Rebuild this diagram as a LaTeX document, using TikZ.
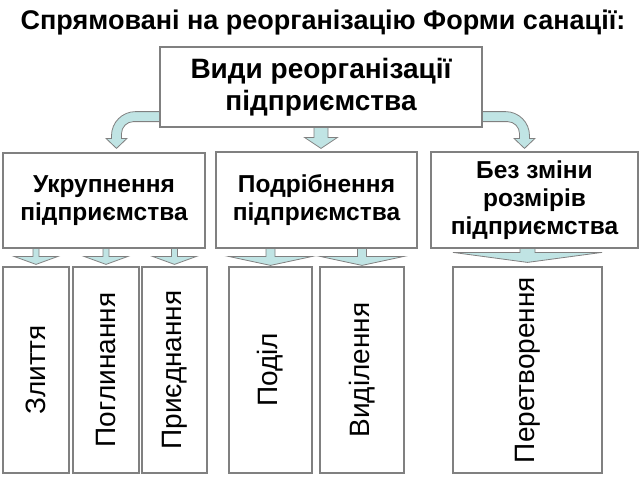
\documentclass[tikz,border=0pt]{standalone}
\usepackage{fontspec}
\setmainfont{Liberation Sans}
\usepackage{graphicx}
\usetikzlibrary{calc,positioning,backgrounds}
\definecolor{arrfill}{RGB}{192,228,228}
\definecolor{boxline}{RGB}{128,128,128}

% straight block arrow: #1 start (box bottom), #2 tip, #3 head half width, #4 shaft half width, #5 head length
\newcommand{\downarr}[5]{%
 \filldraw[blockarr] let \p1=(#1), \p2=(#2) in
  ({\x2-#4},{\y1+2pt}) -- ({\x2-#4},{\y2+#5}) -- ({\x2-#3},{\y2+#5}) -- (\x2,\y2)
  -- ({\x2+#3},{\y2+#5}) -- ({\x2+#4},{\y2+#5}) -- ({\x2+#4},{\y1+2pt}) -- cycle;}
% bent block arrow: #1 start (box side), #2 tip, #3 direction (-1 left, 1 right)
\newcommand{\bendarr}[3]{%
 \filldraw[blockarr] let \p1=(#1), \p2=(#2) in
  ({\x1-(#3)*2pt},{\y1+5pt}) -- ({\x2-(#3)*19pt},{\y1+5pt})
  .. controls ({\x2-(#3)*5.75pt},{\y1+5pt}) and ({\x2+(#3)*5pt},{\y1-5.75pt}) .. ({\x2+(#3)*5pt},{\y1-19pt})
  -- ({\x2+(#3)*5pt},{\y2+10pt}) -- ({\x2+(#3)*10.5pt},{\y2+10pt}) -- (\x2,\y2)
  -- ({\x2-(#3)*10.5pt},{\y2+10pt}) -- ({\x2-(#3)*5pt},{\y2+10pt}) -- ({\x2-(#3)*5pt},{\y1-17pt})
  .. controls ({\x2-(#3)*5pt},{\y1-10.4pt}) and ({\x2-(#3)*10.4pt},{\y1-5pt}) .. ({\x2-(#3)*17pt},{\y1-5pt})
  -- ({\x1-(#3)*2pt},{\y1-5pt}) -- cycle;}

\begin{document}
\begin{tikzpicture}[x=1pt,y=-1pt,
 box/.style={draw=boxline,line width=1.2pt,fill=white,inner sep=0pt,align=center,
  font=\bfseries\fontsize{24.5}{28}\selectfont},
 leaf/.style={draw=boxline,line width=1.2pt,fill=white,inner sep=0pt,minimum height=206pt,
  font=\fontsize{28}{32}\selectfont},
 blockarr/.style={draw=boxline,fill=arrfill,line width=0.8pt}]
\useasboundingbox (0,0) rectangle (640,480);
\node[font=\bfseries\fontsize{27}{32}\selectfont] (title) at (323,23) {Спрямовані на реорганізацію Форми санації:};
% boxes
\node[box,minimum width=322pt,minimum height=80pt,font=\bfseries\fontsize{28}{32}\selectfont] (vydy) at (321,87) {Види реорганізації\\підприємства};
\node[box,minimum width=202pt,minimum height=95pt] (ukr) at (104,200.5) {Укрупнення\\підприємства};
\node[box,minimum width=201pt,minimum height=96pt] (podr) at (316.5,200) {Подрібнення\\підприємства};
\node[box,minimum width=207pt,minimum height=96pt] (bez) at (534.5,200) {Без зміни\\розмірів\\підприємства};
\node[leaf,minimum width=66pt] (zlyt) at (36,370) {\rotatebox{90}{Злиття}};
\node[leaf,minimum width=66pt] (pogl) at (106,370) {\rotatebox{90}{Поглинання}};
\node[leaf,minimum width=65pt] (pryed) at (174.5,370) {\rotatebox{90}{Приєднання}};
\node[leaf,minimum width=83pt] (podil) at (270.5,370) {\rotatebox{90}{Поділ}};
\node[leaf,minimum width=84pt] (vydil) at (362,370) {\rotatebox{90}{Виділення}};
\node[leaf,minimum width=149pt] (peretv) at (527.5,370) {\rotatebox{90}{Перетворення}};
% arrows
\begin{scope}[on background layer]
\bendarr{$(vydy.south west)+(0,-11)$}{$(ukr.north)+(12.5,-4)$}{-1}
\bendarr{$(vydy.south east)+(0,-11)$}{$(bez.north)+(-10,-3)$}{1}
\downarr{vydy.south}{$(vydy.south |- podr.north)+(0,-3)$}{16.5pt}{7pt}{11pt}
\downarr{ukr.south -| zlyt.north}{$(zlyt.north)+(0,-2)$}{22pt}{3pt}{8pt}
\downarr{ukr.south -| pogl.north}{$(pogl.north)+(0,-2)$}{22pt}{3pt}{8pt}
\downarr{ukr.south -| pryed.north}{$(pryed.north)+(0,-2)$}{22pt}{3pt}{8pt}
\downarr{podr.south -| podil.north}{$(podil.north)+(0,-1)$}{42pt}{4.5pt}{9pt}
\downarr{podr.south -| vydil.north}{$(vydil.north)+(0,-1)$}{42pt}{4.5pt}{9pt}
\downarr{bez.south -| peretv.north}{$(peretv.north)+(0,-4)$}{74.5pt}{7.5pt}{10pt}
\end{scope}
\end{tikzpicture}
\end{document}
